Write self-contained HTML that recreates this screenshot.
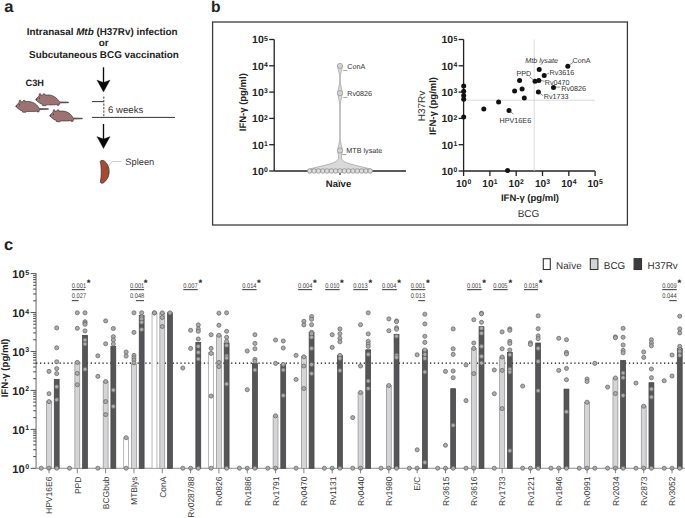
<!DOCTYPE html>
<html><head><meta charset="utf-8"><style>
html,body{margin:0;padding:0;background:#fff;width:685px;height:518px;overflow:hidden}
svg{display:block;font-family:"Liberation Sans", sans-serif;text-rendering:geometricPrecision}
</style></head><body>
<svg width="685" height="518" viewBox="0 0 685 518" fill="#222">
<text x="4.2" y="12.4" font-size="16.5" font-weight="bold">a</text>
<text x="210.9" y="12" font-size="15.6" font-weight="bold">b</text>
<text x="4" y="250.1" font-size="16.5" font-weight="bold">c</text>
<g font-weight="bold" font-size="9.9" text-anchor="middle">
<text x="102.2" y="34.9">Intranasal <tspan font-style="italic">Mtb</tspan> (H37Rv) infection</text>
<text x="103.6" y="46">or</text>
<text x="104" y="57.6">Subcutaneous BCG vaccination</text>
</g>
<text x="25.6" y="85.7" font-size="9.2" font-weight="bold">C3H</text>
<line x1="103.5" y1="67.3" x2="103.5" y2="88.0" stroke="#0a0a0a" stroke-width="1.35"/><path d="M103.5,92.0 L96.9,80.1 L103.5,82.5 L110.1,80.1 Z" fill="#0a0a0a" stroke="#0a0a0a" stroke-width="0.3" stroke-linejoin="miter"/>
<line x1="103.5" y1="124.0" x2="103.5" y2="144.5" stroke="#0a0a0a" stroke-width="1.35"/><path d="M103.5,148.5 L96.9,136.6 L103.5,139.0 L110.1,136.6 Z" fill="#0a0a0a" stroke="#0a0a0a" stroke-width="0.3" stroke-linejoin="miter"/>
<line x1="92.1" y1="101.6" x2="104" y2="101.6" stroke="#333" stroke-width="1"/>
<line x1="103.8" y1="96.6" x2="103.8" y2="117" stroke="#555" stroke-width="1.1" stroke-dasharray="2.1,1.4"/>
<line x1="92.1" y1="117.4" x2="175" y2="117.4" stroke="#333" stroke-width="1"/>
<text x="108.1" y="112.7" font-size="9.6" fill="#333">6 weeks</text>
<path d="M100.3,161.3 C100.8,160.2 102.8,159.9 104.6,161.2 C107.6,163.4 109.3,167.5 109.2,172 C109.1,176.5 106.8,180.6 103.6,182.7 C102.3,183.5 100.9,183.4 100.5,182.4 C100.2,181.5 100.9,179 101.1,176.5 C101.3,173 101.2,168 100.9,165 C100.7,163.3 100.0,162.2 100.3,161.3 Z" fill="#a54b34" stroke="#2f2522" stroke-width="0.65"/>
<polyline points="108.2,166.3 112.2,161.5 121.5,161.5" fill="none" stroke="#c8c8c8" stroke-width="0.9"/>
<line x1="105.4" y1="169.5" x2="108.2" y2="166.3" stroke="#4a3a35" stroke-width="0.6"/>
<text x="125.3" y="164.6" font-size="9.3" fill="#333">Spleen</text>
<g transform="translate(35.8,99.6)"><path d="M0,0 C0.6,-1.0 1.2,-1.9 2.4,-2.8 L3.3,-3.6 C3.2,-4.8 3.5,-6.1 4.2,-6.2 C4.9,-6.1 5.3,-5.2 5.1,-4.1 L6.8,-4.4 C7.0,-5.4 7.7,-6.0 8.5,-5.9 C9.3,-5.6 9.5,-4.9 9.2,-4.4 C12,-5.1 16,-4.7 19,-2.7 C21,-1.3 22.6,0.5 23.4,2.3 L32.6,2.5 L32.6,3.1 L23.8,3.4 C23.6,4.2 23.4,4.8 23.2,5.6 L21.6,5.8 L21.9,5.0 C18,5.4 14,5.4 10.5,5.2 L10.3,6.0 L8.2,6.1 L6.6,5.9 L7.0,5.0 C5.0,4.4 3.0,3.0 1.8,2.0 C1.0,1.3 0.4,0.7 0,0 Z" fill="#9c7272" stroke="#2e2424" stroke-width="0.6" stroke-linejoin="round"/><circle cx="3.6" cy="-1.5" r="0.55" fill="#2e2424"/><circle cx="0.5" cy="0.1" r="0.6" fill="#2e2424"/></g>
<g transform="translate(15.8,106.2)"><path d="M0,0 C0.6,-1.0 1.2,-1.9 2.4,-2.8 L3.3,-3.6 C3.2,-4.8 3.5,-6.1 4.2,-6.2 C4.9,-6.1 5.3,-5.2 5.1,-4.1 L6.8,-4.4 C7.0,-5.4 7.7,-6.0 8.5,-5.9 C9.3,-5.6 9.5,-4.9 9.2,-4.4 C12,-5.1 16,-4.7 19,-2.7 C21,-1.3 22.6,0.5 23.4,2.3 L32.6,2.5 L32.6,3.1 L23.8,3.4 C23.6,4.2 23.4,4.8 23.2,5.6 L21.6,5.8 L21.9,5.0 C18,5.4 14,5.4 10.5,5.2 L10.3,6.0 L8.2,6.1 L6.6,5.9 L7.0,5.0 C5.0,4.4 3.0,3.0 1.8,2.0 C1.0,1.3 0.4,0.7 0,0 Z" fill="#9c7272" stroke="#2e2424" stroke-width="0.6" stroke-linejoin="round"/><circle cx="3.6" cy="-1.5" r="0.55" fill="#2e2424"/><circle cx="0.5" cy="0.1" r="0.6" fill="#2e2424"/></g>
<g transform="translate(49.8,115.7)"><path d="M0,0 C0.6,-1.0 1.2,-1.9 2.4,-2.8 L3.3,-3.6 C3.2,-4.8 3.5,-6.1 4.2,-6.2 C4.9,-6.1 5.3,-5.2 5.1,-4.1 L6.8,-4.4 C7.0,-5.4 7.7,-6.0 8.5,-5.9 C9.3,-5.6 9.5,-4.9 9.2,-4.4 C12,-5.1 16,-4.7 19,-2.7 C21,-1.3 22.6,0.5 23.4,2.3 L32.6,2.5 L32.6,3.1 L23.8,3.4 C23.6,4.2 23.4,4.8 23.2,5.6 L21.6,5.8 L21.9,5.0 C18,5.4 14,5.4 10.5,5.2 L10.3,6.0 L8.2,6.1 L6.6,5.9 L7.0,5.0 C5.0,4.4 3.0,3.0 1.8,2.0 C1.0,1.3 0.4,0.7 0,0 Z" fill="#9c7272" stroke="#2e2424" stroke-width="0.6" stroke-linejoin="round"/><circle cx="3.6" cy="-1.5" r="0.55" fill="#2e2424"/><circle cx="0.5" cy="0.1" r="0.6" fill="#2e2424"/></g>
<rect x="212.6" y="22" width="414.8" height="203" fill="none" stroke="#3c3c3c" stroke-width="1.3"/>
<line x1="274.2" y1="39.5" x2="274.2" y2="171.0" stroke="#222" stroke-width="1.3"/><line x1="269.2" y1="171.0" x2="274.2" y2="171.0" stroke="#222" stroke-width="1.3"/><text x="252.1" y="174.9" font-size="10.5" font-weight="bold" fill="#222">10<tspan dx="0.2" dy="-2.7" font-size="6.8">0</tspan></text><line x1="269.2" y1="144.7" x2="274.2" y2="144.7" stroke="#222" stroke-width="1.3"/><text x="252.1" y="148.6" font-size="10.5" font-weight="bold" fill="#222">10<tspan dx="0.2" dy="-2.7" font-size="6.8">1</tspan></text><line x1="269.2" y1="118.4" x2="274.2" y2="118.4" stroke="#222" stroke-width="1.3"/><text x="252.1" y="122.30000000000001" font-size="10.5" font-weight="bold" fill="#222">10<tspan dx="0.2" dy="-2.7" font-size="6.8">2</tspan></text><line x1="269.2" y1="92.1" x2="274.2" y2="92.1" stroke="#222" stroke-width="1.3"/><text x="252.1" y="96.0" font-size="10.5" font-weight="bold" fill="#222">10<tspan dx="0.2" dy="-2.7" font-size="6.8">3</tspan></text><line x1="269.2" y1="65.8" x2="274.2" y2="65.8" stroke="#222" stroke-width="1.3"/><text x="252.1" y="69.7" font-size="10.5" font-weight="bold" fill="#222">10<tspan dx="0.2" dy="-2.7" font-size="6.8">4</tspan></text><line x1="269.2" y1="39.5" x2="274.2" y2="39.5" stroke="#222" stroke-width="1.3"/><text x="252.1" y="43.4" font-size="10.5" font-weight="bold" fill="#222">10<tspan dx="0.2" dy="-2.7" font-size="6.8">5</tspan></text>
<line x1="274.2" y1="171.0" x2="406" y2="171.0" stroke="#222" stroke-width="1.4"/>
<line x1="340" y1="171.0" x2="340" y2="175.0" stroke="#222" stroke-width="1.2"/>
<text x="338.5" y="186.5" font-size="9.5" font-weight="bold" text-anchor="middle" fill="#222">Naïve</text>
<text transform="translate(246.2,102.2) rotate(-90)" font-size="9.5" font-weight="bold" text-anchor="middle" fill="#222">IFN-γ (pg/ml)</text>
<path d="M342.20,65.90 L342.19,66.40 L342.16,66.90 L342.12,67.40 L342.06,67.90 L341.98,68.40 L341.90,68.90 L341.80,69.40 L341.69,69.90 L341.57,70.40 L341.46,70.90 L341.34,71.40 L341.21,71.90 L341.10,72.40 L340.98,72.90 L340.87,73.40 L340.77,73.90 L340.67,74.40 L340.59,74.90 L340.51,75.40 L340.44,75.90 L340.38,76.40 L340.33,76.90 L340.28,77.40 L340.25,77.90 L340.23,78.40 L340.21,78.90 L340.21,79.40 L340.21,79.90 L340.22,80.40 L340.24,80.90 L340.27,81.40 L340.31,81.90 L340.36,82.40 L340.41,82.90 L340.48,83.40 L340.55,83.90 L340.64,84.40 L340.73,84.90 L340.83,85.40 L340.94,85.90 L341.05,86.40 L341.17,86.90 L341.29,87.40 L341.41,87.90 L341.53,88.40 L341.64,88.90 L341.75,89.40 L341.86,89.90 L341.95,90.40 L342.03,90.90 L342.10,91.40 L342.15,91.90 L342.18,92.40 L342.20,92.90 L342.20,93.40 L342.18,93.90 L342.14,94.40 L342.09,94.90 L342.02,95.40 L341.93,95.90 L341.84,96.40 L341.73,96.90 L341.62,97.40 L341.50,97.90 L341.38,98.40 L341.26,98.90 L341.14,99.40 L341.02,99.90 L340.91,100.40 L340.80,100.90 L340.70,101.40 L340.61,101.90 L340.53,102.40 L340.45,102.90 L340.38,103.40 L340.32,103.90 L340.27,104.40 L340.22,104.90 L340.18,105.40 L340.15,105.90 L340.12,106.40 L340.12,106.90 L340.12,107.40 L340.12,107.90 L340.12,108.40 L340.12,108.90 L340.12,109.40 L340.12,109.90 L340.12,110.40 L340.12,110.90 L340.12,111.40 L340.12,111.90 L340.12,112.40 L340.12,112.90 L340.12,113.40 L340.12,113.90 L340.12,114.40 L340.12,114.90 L340.12,115.40 L340.12,115.90 L340.12,116.40 L340.12,116.90 L340.12,117.40 L340.12,117.90 L340.12,118.40 L340.12,118.90 L340.12,119.40 L340.12,119.90 L340.12,120.40 L340.12,120.90 L340.12,121.40 L340.12,121.90 L340.12,122.40 L340.12,122.90 L340.12,123.40 L340.12,123.90 L340.12,124.40 L340.12,124.90 L340.12,125.40 L340.12,125.90 L340.12,126.40 L340.12,126.90 L340.12,127.40 L340.12,127.90 L340.12,128.40 L340.12,128.90 L340.12,129.40 L340.12,129.90 L340.12,130.40 L340.12,130.90 L340.12,131.40 L340.12,131.90 L340.12,132.40 L340.12,132.90 L340.12,133.40 L340.12,133.90 L340.12,134.40 L340.12,134.90 L340.12,135.40 L340.12,135.90 L340.12,136.40 L340.12,136.90 L340.13,137.40 L340.16,137.90 L340.20,138.40 L340.24,138.90 L340.29,139.40 L340.34,139.90 L340.41,140.40 L340.48,140.90 L340.56,141.40 L340.65,141.90 L340.74,142.40 L340.85,142.90 L340.96,143.40 L341.07,143.90 L341.19,144.40 L341.31,144.90 L341.43,145.40 L341.55,145.90 L341.67,146.40 L341.78,146.90 L341.88,147.40 L341.97,147.90 L342.05,148.40 L342.11,148.90 L342.16,149.40 L342.19,149.90 L342.20,150.40 L342.20,150.90 L342.17,151.40 L342.14,151.90 L342.08,152.40 L342.01,152.90 L341.94,153.40 L341.85,153.90 L341.76,154.40 L341.67,154.90 L341.58,155.40 L341.51,155.90 L341.45,156.40 L341.42,156.90 L341.42,157.40 L341.46,157.90 L341.56,158.40 L341.72,158.90 L341.97,159.40 L342.31,159.90 L342.76,160.40 L343.33,160.90 L344.05,161.40 L344.92,161.90 L345.96,162.40 L347.18,162.90 L348.57,163.40 L350.14,163.90 L351.88,164.40 L353.77,164.90 L355.78,165.40 L357.89,165.90 L360.05,166.40 L362.21,166.90 L364.31,167.40 L366.31,167.90 L368.14,168.40 L369.74,168.90 L371.07,169.40 L372.07,169.90 L372.72,170.40 L372.99,170.90 L373.00,171.00 L307.00,171.00 L307.01,170.90 L307.28,170.40 L307.93,169.90 L308.93,169.40 L310.26,168.90 L311.86,168.40 L313.69,167.90 L315.69,167.40 L317.79,166.90 L319.95,166.40 L322.11,165.90 L324.22,165.40 L326.23,164.90 L328.12,164.40 L329.86,163.90 L331.43,163.40 L332.82,162.90 L334.04,162.40 L335.08,161.90 L335.95,161.40 L336.67,160.90 L337.24,160.40 L337.69,159.90 L338.03,159.40 L338.28,158.90 L338.44,158.40 L338.54,157.90 L338.58,157.40 L338.58,156.90 L338.55,156.40 L338.49,155.90 L338.42,155.40 L338.33,154.90 L338.24,154.40 L338.15,153.90 L338.06,153.40 L337.99,152.90 L337.92,152.40 L337.86,151.90 L337.83,151.40 L337.80,150.90 L337.80,150.40 L337.81,149.90 L337.84,149.40 L337.89,148.90 L337.95,148.40 L338.03,147.90 L338.12,147.40 L338.22,146.90 L338.33,146.40 L338.45,145.90 L338.57,145.40 L338.69,144.90 L338.81,144.40 L338.93,143.90 L339.04,143.40 L339.15,142.90 L339.26,142.40 L339.35,141.90 L339.44,141.40 L339.52,140.90 L339.59,140.40 L339.66,139.90 L339.71,139.40 L339.76,138.90 L339.80,138.40 L339.84,137.90 L339.87,137.40 L339.88,136.90 L339.88,136.40 L339.88,135.90 L339.88,135.40 L339.88,134.90 L339.88,134.40 L339.88,133.90 L339.88,133.40 L339.88,132.90 L339.88,132.40 L339.88,131.90 L339.88,131.40 L339.88,130.90 L339.88,130.40 L339.88,129.90 L339.88,129.40 L339.88,128.90 L339.88,128.40 L339.88,127.90 L339.88,127.40 L339.88,126.90 L339.88,126.40 L339.88,125.90 L339.88,125.40 L339.88,124.90 L339.88,124.40 L339.88,123.90 L339.88,123.40 L339.88,122.90 L339.88,122.40 L339.88,121.90 L339.88,121.40 L339.88,120.90 L339.88,120.40 L339.88,119.90 L339.88,119.40 L339.88,118.90 L339.88,118.40 L339.88,117.90 L339.88,117.40 L339.88,116.90 L339.88,116.40 L339.88,115.90 L339.88,115.40 L339.88,114.90 L339.88,114.40 L339.88,113.90 L339.88,113.40 L339.88,112.90 L339.88,112.40 L339.88,111.90 L339.88,111.40 L339.88,110.90 L339.88,110.40 L339.88,109.90 L339.88,109.40 L339.88,108.90 L339.88,108.40 L339.88,107.90 L339.88,107.40 L339.88,106.90 L339.88,106.40 L339.85,105.90 L339.82,105.40 L339.78,104.90 L339.73,104.40 L339.68,103.90 L339.62,103.40 L339.55,102.90 L339.47,102.40 L339.39,101.90 L339.30,101.40 L339.20,100.90 L339.09,100.40 L338.98,99.90 L338.86,99.40 L338.74,98.90 L338.62,98.40 L338.50,97.90 L338.38,97.40 L338.27,96.90 L338.16,96.40 L338.07,95.90 L337.98,95.40 L337.91,94.90 L337.86,94.40 L337.82,93.90 L337.80,93.40 L337.80,92.90 L337.82,92.40 L337.85,91.90 L337.90,91.40 L337.97,90.90 L338.05,90.40 L338.14,89.90 L338.25,89.40 L338.36,88.90 L338.47,88.40 L338.59,87.90 L338.71,87.40 L338.83,86.90 L338.95,86.40 L339.06,85.90 L339.17,85.40 L339.27,84.90 L339.36,84.40 L339.45,83.90 L339.52,83.40 L339.59,82.90 L339.64,82.40 L339.69,81.90 L339.73,81.40 L339.76,80.90 L339.78,80.40 L339.79,79.90 L339.79,79.40 L339.79,78.90 L339.77,78.40 L339.75,77.90 L339.72,77.40 L339.67,76.90 L339.62,76.40 L339.56,75.90 L339.49,75.40 L339.41,74.90 L339.33,74.40 L339.23,73.90 L339.13,73.40 L339.02,72.90 L338.90,72.40 L338.79,71.90 L338.66,71.40 L338.54,70.90 L338.43,70.40 L338.31,69.90 L338.20,69.40 L338.10,68.90 L338.02,68.40 L337.94,67.90 L337.88,67.40 L337.84,66.90 L337.81,66.40 L337.80,65.90 Z" fill="#d9d9d9" stroke="#8a8a8a" stroke-width="0.6" stroke-linejoin="round"/>
<circle cx="309.80" cy="171.0" r="2.3" fill="#dcdcdc" stroke="#777" stroke-width="0.6"/>
<circle cx="314.11" cy="171.0" r="2.3" fill="#dcdcdc" stroke="#777" stroke-width="0.6"/>
<circle cx="318.43" cy="171.0" r="2.3" fill="#dcdcdc" stroke="#777" stroke-width="0.6"/>
<circle cx="322.74" cy="171.0" r="2.3" fill="#dcdcdc" stroke="#777" stroke-width="0.6"/>
<circle cx="327.06" cy="171.0" r="2.3" fill="#dcdcdc" stroke="#777" stroke-width="0.6"/>
<circle cx="331.37" cy="171.0" r="2.3" fill="#dcdcdc" stroke="#777" stroke-width="0.6"/>
<circle cx="335.69" cy="171.0" r="2.3" fill="#dcdcdc" stroke="#777" stroke-width="0.6"/>
<circle cx="340.00" cy="171.0" r="2.3" fill="#dcdcdc" stroke="#777" stroke-width="0.6"/>
<circle cx="344.31" cy="171.0" r="2.3" fill="#dcdcdc" stroke="#777" stroke-width="0.6"/>
<circle cx="348.63" cy="171.0" r="2.3" fill="#dcdcdc" stroke="#777" stroke-width="0.6"/>
<circle cx="352.94" cy="171.0" r="2.3" fill="#dcdcdc" stroke="#777" stroke-width="0.6"/>
<circle cx="357.26" cy="171.0" r="2.3" fill="#dcdcdc" stroke="#777" stroke-width="0.6"/>
<circle cx="361.57" cy="171.0" r="2.3" fill="#dcdcdc" stroke="#777" stroke-width="0.6"/>
<circle cx="365.89" cy="171.0" r="2.3" fill="#dcdcdc" stroke="#777" stroke-width="0.6"/>
<circle cx="370.20" cy="171.0" r="2.3" fill="#dcdcdc" stroke="#777" stroke-width="0.6"/>
<circle cx="340" cy="65.9" r="2.6" fill="#d4d4d4" stroke="#888" stroke-width="0.6"/>
<circle cx="340" cy="93.1" r="2.6" fill="#d4d4d4" stroke="#888" stroke-width="0.6"/>
<circle cx="340" cy="150.5" r="2.6" fill="#d4d4d4" stroke="#888" stroke-width="0.6"/>
<g font-size="7.2" fill="#333">
<text x="343.3" y="69">_ConA</text><text x="343.3" y="95.6">_Rv0826</text><text x="342.3" y="152.7">_MTB lysate</text>
</g>
<line x1="463.6" y1="39.5" x2="463.6" y2="171.0" stroke="#222" stroke-width="1.3"/><line x1="458.6" y1="171.0" x2="463.6" y2="171.0" stroke="#222" stroke-width="1.3"/><text x="441.5" y="174.9" font-size="10.5" font-weight="bold" fill="#222">10<tspan dx="0.2" dy="-2.7" font-size="6.8">0</tspan></text><line x1="458.6" y1="144.7" x2="463.6" y2="144.7" stroke="#222" stroke-width="1.3"/><text x="441.5" y="148.6" font-size="10.5" font-weight="bold" fill="#222">10<tspan dx="0.2" dy="-2.7" font-size="6.8">1</tspan></text><line x1="458.6" y1="118.4" x2="463.6" y2="118.4" stroke="#222" stroke-width="1.3"/><text x="441.5" y="122.30000000000001" font-size="10.5" font-weight="bold" fill="#222">10<tspan dx="0.2" dy="-2.7" font-size="6.8">2</tspan></text><line x1="458.6" y1="92.1" x2="463.6" y2="92.1" stroke="#222" stroke-width="1.3"/><text x="441.5" y="96.0" font-size="10.5" font-weight="bold" fill="#222">10<tspan dx="0.2" dy="-2.7" font-size="6.8">3</tspan></text><line x1="458.6" y1="65.8" x2="463.6" y2="65.8" stroke="#222" stroke-width="1.3"/><text x="441.5" y="69.7" font-size="10.5" font-weight="bold" fill="#222">10<tspan dx="0.2" dy="-2.7" font-size="6.8">4</tspan></text><line x1="458.6" y1="39.5" x2="463.6" y2="39.5" stroke="#222" stroke-width="1.3"/><text x="441.5" y="43.4" font-size="10.5" font-weight="bold" fill="#222">10<tspan dx="0.2" dy="-2.7" font-size="6.8">5</tspan></text>
<line x1="463.6" y1="171.0" x2="594.9" y2="171.0" stroke="#222" stroke-width="1.4"/>
<line x1="463.6" y1="171.0" x2="463.6" y2="176.0" stroke="#222" stroke-width="1.3"/>
<text x="456.00" y="187.3" font-size="10.1" font-weight="bold" fill="#222">10<tspan dx="0.2" dy="-3.1" font-size="6.8">0</tspan></text>
<line x1="489.90000000000003" y1="171.0" x2="489.90000000000003" y2="176.0" stroke="#222" stroke-width="1.3"/>
<text x="482.30" y="187.3" font-size="10.1" font-weight="bold" fill="#222">10<tspan dx="0.2" dy="-3.1" font-size="6.8">1</tspan></text>
<line x1="516.2" y1="171.0" x2="516.2" y2="176.0" stroke="#222" stroke-width="1.3"/>
<text x="508.60" y="187.3" font-size="10.1" font-weight="bold" fill="#222">10<tspan dx="0.2" dy="-3.1" font-size="6.8">2</tspan></text>
<line x1="542.5" y1="171.0" x2="542.5" y2="176.0" stroke="#222" stroke-width="1.3"/>
<text x="534.90" y="187.3" font-size="10.1" font-weight="bold" fill="#222">10<tspan dx="0.2" dy="-3.1" font-size="6.8">3</tspan></text>
<line x1="568.8000000000001" y1="171.0" x2="568.8000000000001" y2="176.0" stroke="#222" stroke-width="1.3"/>
<text x="561.20" y="187.3" font-size="10.1" font-weight="bold" fill="#222">10<tspan dx="0.2" dy="-3.1" font-size="6.8">4</tspan></text>
<line x1="595.1" y1="171.0" x2="595.1" y2="176.0" stroke="#222" stroke-width="1.3"/>
<text x="587.50" y="187.3" font-size="10.1" font-weight="bold" fill="#222">10<tspan dx="0.2" dy="-3.1" font-size="6.8">5</tspan></text>
<text x="530" y="201.3" font-size="9.5" font-weight="bold" text-anchor="middle" fill="#222">IFN-γ (pg/ml)</text>
<text x="528.5" y="216.9" font-size="10" text-anchor="middle" fill="#333">BCG</text>
<text transform="translate(425.2,106) rotate(-90)" font-size="10" text-anchor="middle" fill="#333">H37Rv</text>
<text transform="translate(435.5,106) rotate(-90)" font-size="9.5" font-weight="bold" text-anchor="middle" fill="#222">IFN-γ (pg/ml)</text>
<line x1="463.6" y1="100.2" x2="594.9" y2="100.2" stroke="#cfcfcf" stroke-width="0.8"/>
<line x1="534.2" y1="39.5" x2="534.2" y2="171.0" stroke="#cfcfcf" stroke-width="0.8"/>
<circle cx="463.7" cy="85.9" r="2.5" fill="#111"/>
<circle cx="463.7" cy="91.2" r="2.5" fill="#111"/>
<circle cx="463.7" cy="95.4" r="2.5" fill="#111"/>
<circle cx="463.7" cy="99.3" r="2.5" fill="#111"/>
<circle cx="463.7" cy="116.9" r="2.5" fill="#111"/>
<circle cx="483.8" cy="109.1" r="2.5" fill="#111"/>
<circle cx="498.6" cy="102.1" r="2.5" fill="#111"/>
<circle cx="509" cy="110.6" r="2.5" fill="#111"/>
<circle cx="514.6" cy="91.1" r="2.5" fill="#111"/>
<circle cx="519.6" cy="80.6" r="2.5" fill="#111"/>
<circle cx="522.1" cy="89.1" r="2.5" fill="#111"/>
<circle cx="524.3" cy="97.9" r="2.5" fill="#111"/>
<circle cx="535" cy="81.2" r="2.5" fill="#111"/>
<circle cx="538.8" cy="80.5" r="2.5" fill="#111"/>
<circle cx="539.2" cy="69.6" r="2.5" fill="#111"/>
<circle cx="544.2" cy="75.4" r="2.5" fill="#111"/>
<circle cx="538.4" cy="92.1" r="2.5" fill="#111"/>
<circle cx="553.5" cy="87.4" r="2.5" fill="#111"/>
<circle cx="567.8" cy="66.2" r="2.5" fill="#111"/>
<circle cx="507.6" cy="170.6" r="2.5" fill="#111"/>
<g font-size="7.2" fill="#333">
<text x="525.2" y="63.2" font-style="italic">Mtb lysate</text>
<text x="572.6" y="62.8">ConA</text>
<text x="516.5" y="76.2">PPD</text>
<text x="549.5" y="75">Rv3616</text>
<text x="544.8" y="84.5">Rv0470</text>
<text x="561.2" y="91.1">Rv0826</text>
<text x="543.7" y="98.8">Rv1733</text>
<text x="499.6" y="122.9">HPV16E6</text>
</g>
<g stroke="#444" stroke-width="0.6" fill="none">
<line x1="568.8" y1="65.4" x2="573" y2="62.4"/>
<line x1="546.3" y1="74.4" x2="549" y2="73.2"/>
<line x1="540.6" y1="80.4" x2="544.7" y2="81.3"/>
<line x1="555.2" y1="87.1" x2="560.2" y2="87.1"/>
<line x1="539.5" y1="93.2" x2="543.2" y2="95.6"/>
<line x1="529.3" y1="76.6" x2="533.6" y2="80.1"/>
<line x1="509.7" y1="111" x2="513.5" y2="114.1"/>
</g>
<line x1="36.1" y1="273.1" x2="36.1" y2="468.3" stroke="#ababab" stroke-width="1.8"/><line x1="36.1" y1="468.3" x2="685" y2="468.3" stroke="#8c8c8c" stroke-width="1.1"/><line x1="30.6" y1="468.3" x2="36.1" y2="468.3" stroke="#555" stroke-width="1"/><text x="12.200000000000003" y="472.6" font-size="11.2" font-weight="bold" fill="#222">10<tspan dx="0.7" dy="-3.3" font-size="7">0</tspan></text><line x1="33.1" y1="456.58" x2="36.1" y2="456.58" stroke="#444" stroke-width="0.95"/><line x1="33.1" y1="449.72" x2="36.1" y2="449.72" stroke="#444" stroke-width="0.95"/><line x1="33.1" y1="444.86" x2="36.1" y2="444.86" stroke="#444" stroke-width="0.95"/><line x1="33.1" y1="441.08" x2="36.1" y2="441.08" stroke="#444" stroke-width="0.95"/><line x1="33.1" y1="438.00" x2="36.1" y2="438.00" stroke="#444" stroke-width="0.95"/><line x1="33.1" y1="435.39" x2="36.1" y2="435.39" stroke="#444" stroke-width="0.95"/><line x1="33.1" y1="433.13" x2="36.1" y2="433.13" stroke="#444" stroke-width="0.95"/><line x1="33.1" y1="431.14" x2="36.1" y2="431.14" stroke="#444" stroke-width="0.95"/><line x1="30.6" y1="429.36" x2="36.1" y2="429.36" stroke="#555" stroke-width="1"/><text x="12.200000000000003" y="433.66" font-size="11.2" font-weight="bold" fill="#222">10<tspan dx="0.7" dy="-3.3" font-size="7">1</tspan></text><line x1="33.1" y1="417.64" x2="36.1" y2="417.64" stroke="#444" stroke-width="0.95"/><line x1="33.1" y1="410.78" x2="36.1" y2="410.78" stroke="#444" stroke-width="0.95"/><line x1="33.1" y1="405.92" x2="36.1" y2="405.92" stroke="#444" stroke-width="0.95"/><line x1="33.1" y1="402.14" x2="36.1" y2="402.14" stroke="#444" stroke-width="0.95"/><line x1="33.1" y1="399.06" x2="36.1" y2="399.06" stroke="#444" stroke-width="0.95"/><line x1="33.1" y1="396.45" x2="36.1" y2="396.45" stroke="#444" stroke-width="0.95"/><line x1="33.1" y1="394.19" x2="36.1" y2="394.19" stroke="#444" stroke-width="0.95"/><line x1="33.1" y1="392.20" x2="36.1" y2="392.20" stroke="#444" stroke-width="0.95"/><line x1="30.6" y1="390.42" x2="36.1" y2="390.42" stroke="#555" stroke-width="1"/><text x="12.200000000000003" y="394.72" font-size="11.2" font-weight="bold" fill="#222">10<tspan dx="0.7" dy="-3.3" font-size="7">2</tspan></text><line x1="33.1" y1="378.70" x2="36.1" y2="378.70" stroke="#444" stroke-width="0.95"/><line x1="33.1" y1="371.84" x2="36.1" y2="371.84" stroke="#444" stroke-width="0.95"/><line x1="33.1" y1="366.98" x2="36.1" y2="366.98" stroke="#444" stroke-width="0.95"/><line x1="33.1" y1="363.20" x2="36.1" y2="363.20" stroke="#444" stroke-width="0.95"/><line x1="33.1" y1="360.12" x2="36.1" y2="360.12" stroke="#444" stroke-width="0.95"/><line x1="33.1" y1="357.51" x2="36.1" y2="357.51" stroke="#444" stroke-width="0.95"/><line x1="33.1" y1="355.25" x2="36.1" y2="355.25" stroke="#444" stroke-width="0.95"/><line x1="33.1" y1="353.26" x2="36.1" y2="353.26" stroke="#444" stroke-width="0.95"/><line x1="30.6" y1="351.48" x2="36.1" y2="351.48" stroke="#555" stroke-width="1"/><text x="12.200000000000003" y="355.78000000000003" font-size="11.2" font-weight="bold" fill="#222">10<tspan dx="0.7" dy="-3.3" font-size="7">3</tspan></text><line x1="33.1" y1="339.76" x2="36.1" y2="339.76" stroke="#444" stroke-width="0.95"/><line x1="33.1" y1="332.90" x2="36.1" y2="332.90" stroke="#444" stroke-width="0.95"/><line x1="33.1" y1="328.04" x2="36.1" y2="328.04" stroke="#444" stroke-width="0.95"/><line x1="33.1" y1="324.26" x2="36.1" y2="324.26" stroke="#444" stroke-width="0.95"/><line x1="33.1" y1="321.18" x2="36.1" y2="321.18" stroke="#444" stroke-width="0.95"/><line x1="33.1" y1="318.57" x2="36.1" y2="318.57" stroke="#444" stroke-width="0.95"/><line x1="33.1" y1="316.31" x2="36.1" y2="316.31" stroke="#444" stroke-width="0.95"/><line x1="33.1" y1="314.32" x2="36.1" y2="314.32" stroke="#444" stroke-width="0.95"/><line x1="30.6" y1="312.54" x2="36.1" y2="312.54" stroke="#555" stroke-width="1"/><text x="12.200000000000003" y="316.84000000000003" font-size="11.2" font-weight="bold" fill="#222">10<tspan dx="0.7" dy="-3.3" font-size="7">4</tspan></text><line x1="33.1" y1="300.82" x2="36.1" y2="300.82" stroke="#444" stroke-width="0.95"/><line x1="33.1" y1="293.96" x2="36.1" y2="293.96" stroke="#444" stroke-width="0.95"/><line x1="33.1" y1="289.10" x2="36.1" y2="289.10" stroke="#444" stroke-width="0.95"/><line x1="33.1" y1="285.32" x2="36.1" y2="285.32" stroke="#444" stroke-width="0.95"/><line x1="33.1" y1="282.24" x2="36.1" y2="282.24" stroke="#444" stroke-width="0.95"/><line x1="33.1" y1="279.63" x2="36.1" y2="279.63" stroke="#444" stroke-width="0.95"/><line x1="33.1" y1="277.37" x2="36.1" y2="277.37" stroke="#444" stroke-width="0.95"/><line x1="33.1" y1="275.38" x2="36.1" y2="275.38" stroke="#444" stroke-width="0.95"/><line x1="30.6" y1="273.6" x2="36.1" y2="273.6" stroke="#555" stroke-width="1"/><text x="12.200000000000003" y="277.90000000000003" font-size="11.2" font-weight="bold" fill="#222">10<tspan dx="0.7" dy="-3.3" font-size="7">5</tspan></text>
<text transform="translate(7.6,368) rotate(-90)" font-size="9.6" font-weight="bold" text-anchor="middle" fill="#222">IFN-γ (pg/ml)</text>
<line x1="36.1" y1="363.2" x2="685" y2="363.2" stroke="#111" stroke-width="1.3" stroke-dasharray="1.3,2.6"/>
<rect x="46.55" y="401.6" width="4.9" height="66.70" fill="#d5d5d7" stroke="#8f8f8f" stroke-width="0.7"/><rect x="54.25" y="379.3" width="4.9" height="89.00" fill="#555557" stroke="#3f3f41" stroke-width="0.7"/><rect x="74.87" y="362" width="4.9" height="106.30" fill="#d5d5d7" stroke="#8f8f8f" stroke-width="0.7"/><rect x="82.57" y="335.3" width="4.9" height="133.00" fill="#555557" stroke="#3f3f41" stroke-width="0.7"/><rect x="103.19" y="381.5" width="4.9" height="86.80" fill="#d5d5d7" stroke="#8f8f8f" stroke-width="0.7"/><rect x="110.89" y="346.4" width="4.9" height="121.90" fill="#555557" stroke="#3f3f41" stroke-width="0.7"/><rect x="123.71" y="437.7" width="4.9" height="30.60" fill="#ffffff" stroke="#9a9a9a" stroke-width="0.7"/><rect x="131.51" y="364" width="4.9" height="104.30" fill="#d5d5d7" stroke="#8f8f8f" stroke-width="0.7"/><rect x="139.21" y="315.5" width="4.9" height="152.80" fill="#555557" stroke="#3f3f41" stroke-width="0.7"/><rect x="152.03" y="312.8" width="4.9" height="155.50" fill="#ffffff" stroke="#9a9a9a" stroke-width="0.7"/><rect x="159.83" y="312.8" width="4.9" height="155.50" fill="#d5d5d7" stroke="#8f8f8f" stroke-width="0.7"/><rect x="167.53" y="312.8" width="4.9" height="155.50" fill="#555557" stroke="#3f3f41" stroke-width="0.7"/><rect x="195.85" y="342.4" width="4.9" height="125.90" fill="#555557" stroke="#3f3f41" stroke-width="0.7"/><rect x="208.67" y="352.4" width="4.9" height="115.90" fill="#ffffff" stroke="#9a9a9a" stroke-width="0.7"/><rect x="216.47" y="335.3" width="4.9" height="133.00" fill="#d5d5d7" stroke="#8f8f8f" stroke-width="0.7"/><rect x="224.17" y="343" width="4.9" height="125.30" fill="#555557" stroke="#3f3f41" stroke-width="0.7"/><rect x="252.49" y="363.4" width="4.9" height="104.90" fill="#555557" stroke="#3f3f41" stroke-width="0.7"/><rect x="273.11" y="415.8" width="4.9" height="52.50" fill="#d5d5d7" stroke="#8f8f8f" stroke-width="0.7"/><rect x="280.81" y="364.5" width="4.9" height="103.80" fill="#555557" stroke="#3f3f41" stroke-width="0.7"/><rect x="301.43" y="356.4" width="4.9" height="111.90" fill="#d5d5d7" stroke="#8f8f8f" stroke-width="0.7"/><rect x="309.13" y="332.3" width="4.9" height="136.00" fill="#555557" stroke="#3f3f41" stroke-width="0.7"/><rect x="337.45" y="355.4" width="4.9" height="112.90" fill="#555557" stroke="#3f3f41" stroke-width="0.7"/><rect x="358.07" y="392.5" width="4.9" height="75.80" fill="#d5d5d7" stroke="#8f8f8f" stroke-width="0.7"/><rect x="365.77" y="349.8" width="4.9" height="118.50" fill="#555557" stroke="#3f3f41" stroke-width="0.7"/><rect x="386.39" y="385.5" width="4.9" height="82.80" fill="#d5d5d7" stroke="#8f8f8f" stroke-width="0.7"/><rect x="394.09" y="334.3" width="4.9" height="134.00" fill="#555557" stroke="#3f3f41" stroke-width="0.7"/><rect x="422.41" y="349.8" width="4.9" height="118.50" fill="#555557" stroke="#3f3f41" stroke-width="0.7"/><rect x="450.73" y="388.7" width="4.9" height="79.60" fill="#555557" stroke="#3f3f41" stroke-width="0.7"/><rect x="471.35" y="348.4" width="4.9" height="119.90" fill="#d5d5d7" stroke="#8f8f8f" stroke-width="0.7"/><rect x="479.05" y="326.7" width="4.9" height="141.60" fill="#555557" stroke="#3f3f41" stroke-width="0.7"/><rect x="499.67" y="357" width="4.9" height="111.30" fill="#d5d5d7" stroke="#8f8f8f" stroke-width="0.7"/><rect x="507.37" y="352.4" width="4.9" height="115.90" fill="#555557" stroke="#3f3f41" stroke-width="0.7"/><rect x="535.69" y="343" width="4.9" height="125.30" fill="#555557" stroke="#3f3f41" stroke-width="0.7"/><rect x="564.01" y="389.1" width="4.9" height="79.20" fill="#555557" stroke="#3f3f41" stroke-width="0.7"/><rect x="584.63" y="402.2" width="4.9" height="66.10" fill="#d5d5d7" stroke="#8f8f8f" stroke-width="0.7"/><rect x="612.95" y="378" width="4.9" height="90.30" fill="#d5d5d7" stroke="#8f8f8f" stroke-width="0.7"/><rect x="620.65" y="360.4" width="4.9" height="107.90" fill="#555557" stroke="#3f3f41" stroke-width="0.7"/><rect x="641.27" y="406.2" width="4.9" height="62.10" fill="#d5d5d7" stroke="#8f8f8f" stroke-width="0.7"/><rect x="648.97" y="382.7" width="4.9" height="85.60" fill="#555557" stroke="#3f3f41" stroke-width="0.7"/><rect x="677.29" y="348.4" width="4.9" height="119.90" fill="#555557" stroke="#3f3f41" stroke-width="0.7"/>
<g fill="#ababab" stroke="#666" stroke-width="0.75"><circle cx="41.20" cy="468.2" r="2.05"/><circle cx="49.00" cy="371.4" r="2.05"/><circle cx="49.00" cy="393.7" r="2.05"/><circle cx="49.00" cy="401.6" r="2.05"/><circle cx="49.00" cy="468.2" r="2.05"/><circle cx="56.70" cy="327.9" r="2.05"/><circle cx="56.70" cy="347.8" r="2.05"/><circle cx="56.70" cy="361.8" r="2.05"/><circle cx="56.70" cy="368.6" r="2.05"/><circle cx="56.70" cy="373.6" r="2.05"/><circle cx="56.70" cy="386.7" r="2.05"/><circle cx="56.70" cy="399.7" r="2.05"/><circle cx="56.70" cy="468.2" r="2.05"/><circle cx="69.52" cy="468.2" r="2.05"/><circle cx="77.32" cy="312.8" r="2.05"/><circle cx="77.32" cy="328.3" r="2.05"/><circle cx="77.32" cy="362.4" r="2.05"/><circle cx="77.32" cy="373.4" r="2.05"/><circle cx="77.32" cy="384.7" r="2.05"/><circle cx="85.02" cy="312.8" r="2.05"/><circle cx="85.02" cy="321.7" r="2.05"/><circle cx="85.02" cy="323" r="2.05"/><circle cx="85.02" cy="324.3" r="2.05"/><circle cx="85.02" cy="330.9" r="2.05"/><circle cx="85.02" cy="340" r="2.05"/><circle cx="85.02" cy="344" r="2.05"/><circle cx="85.02" cy="369.2" r="2.05"/><circle cx="97.84" cy="355.8" r="2.05"/><circle cx="97.84" cy="376.4" r="2.05"/><circle cx="97.84" cy="468.2" r="2.05"/><circle cx="105.64" cy="320.9" r="2.05"/><circle cx="105.64" cy="343.8" r="2.05"/><circle cx="105.64" cy="381.5" r="2.05"/><circle cx="105.64" cy="401.6" r="2.05"/><circle cx="105.64" cy="414.6" r="2.05"/><circle cx="113.34" cy="328.5" r="2.05"/><circle cx="113.34" cy="336.7" r="2.05"/><circle cx="113.34" cy="340" r="2.05"/><circle cx="113.34" cy="344" r="2.05"/><circle cx="113.34" cy="390.1" r="2.05"/><circle cx="113.34" cy="406.4" r="2.05"/><circle cx="126.16" cy="352" r="2.05"/><circle cx="126.16" cy="356.1" r="2.05"/><circle cx="126.16" cy="437.7" r="2.05"/><circle cx="126.16" cy="468.2" r="2.05"/><circle cx="133.96" cy="312.8" r="2.05"/><circle cx="133.96" cy="332.4" r="2.05"/><circle cx="133.96" cy="355.4" r="2.05"/><circle cx="133.96" cy="357.8" r="2.05"/><circle cx="133.96" cy="360.1" r="2.05"/><circle cx="133.96" cy="362.8" r="2.05"/><circle cx="141.66" cy="312.8" r="2.05"/><circle cx="141.66" cy="316.9" r="2.05"/><circle cx="141.66" cy="318.9" r="2.05"/><circle cx="141.66" cy="322.3" r="2.05"/><circle cx="141.66" cy="329.5" r="2.05"/><circle cx="154.48" cy="312.9" r="2.05"/><circle cx="154.48" cy="312.9" r="2.05"/><circle cx="162.28" cy="312.9" r="2.05"/><circle cx="162.28" cy="317.5" r="2.05"/><circle cx="162.28" cy="326.5" r="2.05"/><circle cx="169.98" cy="312.9" r="2.05"/><circle cx="182.80" cy="368" r="2.05"/><circle cx="182.80" cy="468.2" r="2.05"/><circle cx="190.60" cy="330.3" r="2.05"/><circle cx="190.60" cy="348.4" r="2.05"/><circle cx="190.60" cy="468.2" r="2.05"/><circle cx="198.30" cy="324.9" r="2.05"/><circle cx="198.30" cy="328.9" r="2.05"/><circle cx="198.30" cy="331.3" r="2.05"/><circle cx="198.30" cy="339" r="2.05"/><circle cx="198.30" cy="346.4" r="2.05"/><circle cx="198.30" cy="352.4" r="2.05"/><circle cx="198.30" cy="359" r="2.05"/><circle cx="198.30" cy="468.2" r="2.05"/><circle cx="211.12" cy="334.7" r="2.05"/><circle cx="211.12" cy="348.4" r="2.05"/><circle cx="211.12" cy="353.4" r="2.05"/><circle cx="211.12" cy="396.1" r="2.05"/><circle cx="211.12" cy="468.2" r="2.05"/><circle cx="218.92" cy="313.2" r="2.05"/><circle cx="218.92" cy="325.3" r="2.05"/><circle cx="218.92" cy="335.3" r="2.05"/><circle cx="218.92" cy="362.4" r="2.05"/><circle cx="218.92" cy="366.6" r="2.05"/><circle cx="226.62" cy="312.8" r="2.05"/><circle cx="226.62" cy="331.3" r="2.05"/><circle cx="226.62" cy="337.3" r="2.05"/><circle cx="226.62" cy="341.3" r="2.05"/><circle cx="226.62" cy="345.4" r="2.05"/><circle cx="226.62" cy="356" r="2.05"/><circle cx="226.62" cy="358" r="2.05"/><circle cx="226.62" cy="384" r="2.05"/><circle cx="226.62" cy="468.2" r="2.05"/><circle cx="239.44" cy="468.2" r="2.05"/><circle cx="247.24" cy="351" r="2.05"/><circle cx="247.24" cy="389.7" r="2.05"/><circle cx="247.24" cy="468.2" r="2.05"/><circle cx="254.94" cy="334.7" r="2.05"/><circle cx="254.94" cy="343.4" r="2.05"/><circle cx="254.94" cy="348.8" r="2.05"/><circle cx="254.94" cy="359.4" r="2.05"/><circle cx="254.94" cy="361.4" r="2.05"/><circle cx="254.94" cy="370" r="2.05"/><circle cx="254.94" cy="468.2" r="2.05"/><circle cx="267.76" cy="468.2" r="2.05"/><circle cx="275.56" cy="340" r="2.05"/><circle cx="275.56" cy="363.4" r="2.05"/><circle cx="275.56" cy="415.8" r="2.05"/><circle cx="275.56" cy="468.2" r="2.05"/><circle cx="283.26" cy="341" r="2.05"/><circle cx="283.26" cy="348" r="2.05"/><circle cx="283.26" cy="364.5" r="2.05"/><circle cx="283.26" cy="370" r="2.05"/><circle cx="283.26" cy="395.5" r="2.05"/><circle cx="296.08" cy="355.4" r="2.05"/><circle cx="296.08" cy="379.5" r="2.05"/><circle cx="296.08" cy="468.2" r="2.05"/><circle cx="303.88" cy="321.3" r="2.05"/><circle cx="303.88" cy="324.9" r="2.05"/><circle cx="303.88" cy="356.8" r="2.05"/><circle cx="303.88" cy="366" r="2.05"/><circle cx="303.88" cy="388.5" r="2.05"/><circle cx="311.58" cy="316.6" r="2.05"/><circle cx="311.58" cy="319.3" r="2.05"/><circle cx="311.58" cy="324.7" r="2.05"/><circle cx="311.58" cy="332.3" r="2.05"/><circle cx="311.58" cy="333.7" r="2.05"/><circle cx="311.58" cy="337.3" r="2.05"/><circle cx="311.58" cy="348.4" r="2.05"/><circle cx="311.58" cy="364.5" r="2.05"/><circle cx="311.58" cy="373.6" r="2.05"/><circle cx="324.40" cy="468.2" r="2.05"/><circle cx="332.20" cy="334.7" r="2.05"/><circle cx="332.20" cy="347.4" r="2.05"/><circle cx="332.20" cy="468.2" r="2.05"/><circle cx="339.90" cy="328.9" r="2.05"/><circle cx="339.90" cy="333.7" r="2.05"/><circle cx="339.90" cy="338.3" r="2.05"/><circle cx="339.90" cy="341.8" r="2.05"/><circle cx="339.90" cy="355.4" r="2.05"/><circle cx="339.90" cy="358.4" r="2.05"/><circle cx="339.90" cy="370.6" r="2.05"/><circle cx="339.90" cy="468.2" r="2.05"/><circle cx="352.72" cy="417.6" r="2.05"/><circle cx="352.72" cy="468.2" r="2.05"/><circle cx="360.52" cy="324.7" r="2.05"/><circle cx="360.52" cy="366" r="2.05"/><circle cx="360.52" cy="392.5" r="2.05"/><circle cx="360.52" cy="468.2" r="2.05"/><circle cx="368.22" cy="312.8" r="2.05"/><circle cx="368.22" cy="333.9" r="2.05"/><circle cx="368.22" cy="341.3" r="2.05"/><circle cx="368.22" cy="344" r="2.05"/><circle cx="368.22" cy="346.4" r="2.05"/><circle cx="368.22" cy="354.4" r="2.05"/><circle cx="368.22" cy="381" r="2.05"/><circle cx="368.22" cy="388.5" r="2.05"/><circle cx="381.04" cy="468.2" r="2.05"/><circle cx="388.84" cy="318.9" r="2.05"/><circle cx="388.84" cy="330.7" r="2.05"/><circle cx="388.84" cy="385.5" r="2.05"/><circle cx="388.84" cy="468.2" r="2.05"/><circle cx="396.54" cy="320.9" r="2.05"/><circle cx="396.54" cy="321.7" r="2.05"/><circle cx="396.54" cy="327.7" r="2.05"/><circle cx="396.54" cy="329.3" r="2.05"/><circle cx="396.54" cy="336.3" r="2.05"/><circle cx="396.54" cy="355.4" r="2.05"/><circle cx="396.54" cy="357.4" r="2.05"/><circle cx="396.54" cy="468.2" r="2.05"/><circle cx="409.36" cy="468.2" r="2.05"/><circle cx="417.16" cy="354.8" r="2.05"/><circle cx="417.16" cy="449.8" r="2.05"/><circle cx="417.16" cy="468.2" r="2.05"/><circle cx="424.86" cy="314.2" r="2.05"/><circle cx="424.86" cy="323.9" r="2.05"/><circle cx="424.86" cy="336.3" r="2.05"/><circle cx="424.86" cy="342.4" r="2.05"/><circle cx="424.86" cy="350" r="2.05"/><circle cx="424.86" cy="354.4" r="2.05"/><circle cx="424.86" cy="358.4" r="2.05"/><circle cx="424.86" cy="372" r="2.05"/><circle cx="424.86" cy="462.4" r="2.05"/><circle cx="437.68" cy="468.2" r="2.05"/><circle cx="445.48" cy="371.4" r="2.05"/><circle cx="445.48" cy="445.3" r="2.05"/><circle cx="445.48" cy="468.2" r="2.05"/><circle cx="453.18" cy="328.9" r="2.05"/><circle cx="453.18" cy="348.8" r="2.05"/><circle cx="453.18" cy="354.4" r="2.05"/><circle cx="453.18" cy="371" r="2.05"/><circle cx="453.18" cy="377.7" r="2.05"/><circle cx="453.18" cy="425.3" r="2.05"/><circle cx="453.18" cy="468.2" r="2.05"/><circle cx="466.00" cy="364.9" r="2.05"/><circle cx="466.00" cy="400.6" r="2.05"/><circle cx="466.00" cy="468.2" r="2.05"/><circle cx="473.80" cy="319.7" r="2.05"/><circle cx="473.80" cy="343" r="2.05"/><circle cx="473.80" cy="348.4" r="2.05"/><circle cx="473.80" cy="373.6" r="2.05"/><circle cx="473.80" cy="468.2" r="2.05"/><circle cx="481.50" cy="313.2" r="2.05"/><circle cx="481.50" cy="313.8" r="2.05"/><circle cx="481.50" cy="322.3" r="2.05"/><circle cx="481.50" cy="328.3" r="2.05"/><circle cx="481.50" cy="333.3" r="2.05"/><circle cx="481.50" cy="346.4" r="2.05"/><circle cx="481.50" cy="356.4" r="2.05"/><circle cx="481.50" cy="363" r="2.05"/><circle cx="494.32" cy="370" r="2.05"/><circle cx="494.32" cy="393.7" r="2.05"/><circle cx="494.32" cy="468.2" r="2.05"/><circle cx="502.12" cy="331.9" r="2.05"/><circle cx="502.12" cy="348.8" r="2.05"/><circle cx="502.12" cy="357" r="2.05"/><circle cx="502.12" cy="370.4" r="2.05"/><circle cx="502.12" cy="408.6" r="2.05"/><circle cx="509.82" cy="328.9" r="2.05"/><circle cx="509.82" cy="330.3" r="2.05"/><circle cx="509.82" cy="341.3" r="2.05"/><circle cx="509.82" cy="343.4" r="2.05"/><circle cx="509.82" cy="350" r="2.05"/><circle cx="509.82" cy="354.8" r="2.05"/><circle cx="509.82" cy="369.4" r="2.05"/><circle cx="509.82" cy="372" r="2.05"/><circle cx="509.82" cy="450.8" r="2.05"/><circle cx="522.64" cy="386.1" r="2.05"/><circle cx="522.64" cy="468.2" r="2.05"/><circle cx="530.44" cy="342.8" r="2.05"/><circle cx="530.44" cy="344.4" r="2.05"/><circle cx="530.44" cy="468.2" r="2.05"/><circle cx="538.14" cy="315.8" r="2.05"/><circle cx="538.14" cy="328.7" r="2.05"/><circle cx="538.14" cy="335.9" r="2.05"/><circle cx="538.14" cy="338.7" r="2.05"/><circle cx="538.14" cy="348.4" r="2.05"/><circle cx="538.14" cy="361.4" r="2.05"/><circle cx="538.14" cy="390.7" r="2.05"/><circle cx="538.14" cy="468.2" r="2.05"/><circle cx="550.96" cy="468.2" r="2.05"/><circle cx="558.76" cy="338.3" r="2.05"/><circle cx="558.76" cy="370.4" r="2.05"/><circle cx="558.76" cy="468.2" r="2.05"/><circle cx="566.46" cy="339.7" r="2.05"/><circle cx="566.46" cy="352.4" r="2.05"/><circle cx="566.46" cy="354" r="2.05"/><circle cx="566.46" cy="368.4" r="2.05"/><circle cx="566.46" cy="379.7" r="2.05"/><circle cx="566.46" cy="411.8" r="2.05"/><circle cx="566.46" cy="468.2" r="2.05"/><circle cx="579.28" cy="468.2" r="2.05"/><circle cx="587.08" cy="379" r="2.05"/><circle cx="587.08" cy="381.5" r="2.05"/><circle cx="587.08" cy="402.2" r="2.05"/><circle cx="587.08" cy="468.2" r="2.05"/><circle cx="594.78" cy="363.4" r="2.05"/><circle cx="594.78" cy="468.2" r="2.05"/><circle cx="607.60" cy="387.1" r="2.05"/><circle cx="607.60" cy="468.2" r="2.05"/><circle cx="615.40" cy="336.9" r="2.05"/><circle cx="615.40" cy="337.7" r="2.05"/><circle cx="615.40" cy="378" r="2.05"/><circle cx="615.40" cy="393.5" r="2.05"/><circle cx="615.40" cy="468.2" r="2.05"/><circle cx="623.10" cy="328.3" r="2.05"/><circle cx="623.10" cy="337.3" r="2.05"/><circle cx="623.10" cy="345" r="2.05"/><circle cx="623.10" cy="350.4" r="2.05"/><circle cx="623.10" cy="352.8" r="2.05"/><circle cx="623.10" cy="373" r="2.05"/><circle cx="623.10" cy="377.7" r="2.05"/><circle cx="623.10" cy="395.5" r="2.05"/><circle cx="623.10" cy="468.2" r="2.05"/><circle cx="635.92" cy="383.1" r="2.05"/><circle cx="635.92" cy="468.2" r="2.05"/><circle cx="643.72" cy="352" r="2.05"/><circle cx="643.72" cy="357.4" r="2.05"/><circle cx="643.72" cy="406.2" r="2.05"/><circle cx="643.72" cy="468.2" r="2.05"/><circle cx="651.42" cy="339.7" r="2.05"/><circle cx="651.42" cy="343" r="2.05"/><circle cx="651.42" cy="345.8" r="2.05"/><circle cx="651.42" cy="369" r="2.05"/><circle cx="651.42" cy="377.7" r="2.05"/><circle cx="651.42" cy="389.1" r="2.05"/><circle cx="651.42" cy="397.1" r="2.05"/><circle cx="651.42" cy="468.2" r="2.05"/><circle cx="664.24" cy="380.7" r="2.05"/><circle cx="664.24" cy="468.2" r="2.05"/><circle cx="672.04" cy="355" r="2.05"/><circle cx="672.04" cy="376" r="2.05"/><circle cx="672.04" cy="468.2" r="2.05"/><circle cx="679.74" cy="316.2" r="2.05"/><circle cx="679.74" cy="328.9" r="2.05"/><circle cx="679.74" cy="332.9" r="2.05"/><circle cx="679.74" cy="346.4" r="2.05"/><circle cx="679.74" cy="349.4" r="2.05"/><circle cx="679.74" cy="351.4" r="2.05"/><circle cx="679.74" cy="355.4" r="2.05"/><circle cx="679.74" cy="468.2" r="2.05"/></g>
<line x1="49.00" y1="468.3" x2="49.00" y2="473.3" stroke="#777" stroke-width="0.9"/><text transform="translate(52.30,476.6) rotate(-90)" font-size="8.5" text-anchor="end" fill="#333">HPV16E6</text><line x1="77.32" y1="468.3" x2="77.32" y2="473.3" stroke="#777" stroke-width="0.9"/><text transform="translate(80.62,476.6) rotate(-90)" font-size="8.5" text-anchor="end" fill="#333">PPD</text><line x1="105.64" y1="468.3" x2="105.64" y2="473.3" stroke="#777" stroke-width="0.9"/><text transform="translate(108.94,476.6) rotate(-90)" font-size="8.5" text-anchor="end" fill="#333">BCGbub</text><line x1="133.96" y1="468.3" x2="133.96" y2="473.3" stroke="#777" stroke-width="0.9"/><text transform="translate(137.26,476.6) rotate(-90)" font-size="8.5" text-anchor="end" fill="#333">MTBlys</text><line x1="162.28" y1="468.3" x2="162.28" y2="473.3" stroke="#777" stroke-width="0.9"/><text transform="translate(165.58,476.6) rotate(-90)" font-size="8.5" text-anchor="end" fill="#333">ConA</text><line x1="190.60" y1="468.3" x2="190.60" y2="473.3" stroke="#777" stroke-width="0.9"/><text transform="translate(193.90,476.6) rotate(-90)" font-size="8.5" text-anchor="end" fill="#333">Rv0287/88</text><line x1="218.92" y1="468.3" x2="218.92" y2="473.3" stroke="#777" stroke-width="0.9"/><text transform="translate(222.22,476.6) rotate(-90)" font-size="8.5" text-anchor="end" fill="#333">Rv0826</text><line x1="247.24" y1="468.3" x2="247.24" y2="473.3" stroke="#777" stroke-width="0.9"/><text transform="translate(250.54,476.6) rotate(-90)" font-size="8.5" text-anchor="end" fill="#333">Rv1886</text><line x1="275.56" y1="468.3" x2="275.56" y2="473.3" stroke="#777" stroke-width="0.9"/><text transform="translate(278.86,476.6) rotate(-90)" font-size="8.5" text-anchor="end" fill="#333">Rv1791</text><line x1="303.88" y1="468.3" x2="303.88" y2="473.3" stroke="#777" stroke-width="0.9"/><text transform="translate(307.18,476.6) rotate(-90)" font-size="8.5" text-anchor="end" fill="#333">Rv0470</text><line x1="332.20" y1="468.3" x2="332.20" y2="473.3" stroke="#777" stroke-width="0.9"/><text transform="translate(335.50,476.6) rotate(-90)" font-size="8.5" text-anchor="end" fill="#333">Rv1131</text><line x1="360.52" y1="468.3" x2="360.52" y2="473.3" stroke="#777" stroke-width="0.9"/><text transform="translate(363.82,476.6) rotate(-90)" font-size="8.5" text-anchor="end" fill="#333">Rv0440</text><line x1="388.84" y1="468.3" x2="388.84" y2="473.3" stroke="#777" stroke-width="0.9"/><text transform="translate(392.14,476.6) rotate(-90)" font-size="8.5" text-anchor="end" fill="#333">Rv1980</text><line x1="417.16" y1="468.3" x2="417.16" y2="473.3" stroke="#777" stroke-width="0.9"/><text transform="translate(420.46,476.6) rotate(-90)" font-size="8.5" text-anchor="end" fill="#333">E/C</text><line x1="445.48" y1="468.3" x2="445.48" y2="473.3" stroke="#777" stroke-width="0.9"/><text transform="translate(448.78,476.6) rotate(-90)" font-size="8.5" text-anchor="end" fill="#333">Rv3615</text><line x1="473.80" y1="468.3" x2="473.80" y2="473.3" stroke="#777" stroke-width="0.9"/><text transform="translate(477.10,476.6) rotate(-90)" font-size="8.5" text-anchor="end" fill="#333">Rv3616</text><line x1="502.12" y1="468.3" x2="502.12" y2="473.3" stroke="#777" stroke-width="0.9"/><text transform="translate(505.42,476.6) rotate(-90)" font-size="8.5" text-anchor="end" fill="#333">Rv1733</text><line x1="530.44" y1="468.3" x2="530.44" y2="473.3" stroke="#777" stroke-width="0.9"/><text transform="translate(533.74,476.6) rotate(-90)" font-size="8.5" text-anchor="end" fill="#333">Rv1221</text><line x1="558.76" y1="468.3" x2="558.76" y2="473.3" stroke="#777" stroke-width="0.9"/><text transform="translate(562.06,476.6) rotate(-90)" font-size="8.5" text-anchor="end" fill="#333">Rv1846</text><line x1="587.08" y1="468.3" x2="587.08" y2="473.3" stroke="#777" stroke-width="0.9"/><text transform="translate(590.38,476.6) rotate(-90)" font-size="8.5" text-anchor="end" fill="#333">Rv0991</text><line x1="615.40" y1="468.3" x2="615.40" y2="473.3" stroke="#777" stroke-width="0.9"/><text transform="translate(618.70,476.6) rotate(-90)" font-size="8.5" text-anchor="end" fill="#333">Rv2034</text><line x1="643.72" y1="468.3" x2="643.72" y2="473.3" stroke="#777" stroke-width="0.9"/><text transform="translate(647.02,476.6) rotate(-90)" font-size="8.5" text-anchor="end" fill="#333">Rv2873</text><line x1="672.04" y1="468.3" x2="672.04" y2="473.3" stroke="#777" stroke-width="0.9"/><text transform="translate(675.34,476.6) rotate(-90)" font-size="8.5" text-anchor="end" fill="#333">Rv3052</text>
<text x="71.8" y="287.9" font-size="6.8" fill="#444" textLength="14.3" lengthAdjust="spacingAndGlyphs">0.001</text><line x1="71.8" y1="289.6" x2="84.8" y2="289.6" stroke="#555" stroke-width="1.2"/><text x="88.6" y="286.3" font-size="9.6" font-weight="bold" fill="#222" text-anchor="middle">*</text><text x="71.8" y="298.2" font-size="6.8" fill="#444" textLength="14.3" lengthAdjust="spacingAndGlyphs">0.027</text><line x1="71.8" y1="300.6" x2="78.6" y2="300.6" stroke="#555" stroke-width="1.2"/><text x="130.0" y="287.9" font-size="6.8" fill="#444" textLength="14.3" lengthAdjust="spacingAndGlyphs">0.001</text><line x1="130.0" y1="289.6" x2="144.1" y2="289.6" stroke="#555" stroke-width="1.2"/><text x="145.6" y="286.3" font-size="9.6" font-weight="bold" fill="#222" text-anchor="middle">*</text><text x="130.0" y="298.2" font-size="6.8" fill="#444" textLength="14.3" lengthAdjust="spacingAndGlyphs">0.048</text><line x1="136.0" y1="300.6" x2="144.0" y2="300.6" stroke="#555" stroke-width="1.2"/><text x="183.3" y="287.9" font-size="6.8" fill="#444" textLength="14.3" lengthAdjust="spacingAndGlyphs">0.007</text><line x1="183.3" y1="289.6" x2="197.7" y2="289.6" stroke="#555" stroke-width="1.2"/><text x="200.4" y="286.3" font-size="9.6" font-weight="bold" fill="#222" text-anchor="middle">*</text><text x="242.2" y="287.9" font-size="6.8" fill="#444" textLength="14.3" lengthAdjust="spacingAndGlyphs">0.014</text><line x1="242.2" y1="289.6" x2="256.6" y2="289.6" stroke="#555" stroke-width="1.2"/><text x="258.9" y="286.3" font-size="9.6" font-weight="bold" fill="#222" text-anchor="middle">*</text><text x="298.1" y="287.9" font-size="6.8" fill="#444" textLength="14.3" lengthAdjust="spacingAndGlyphs">0.004</text><line x1="298.1" y1="289.6" x2="312.1" y2="289.6" stroke="#555" stroke-width="1.2"/><text x="314.8" y="286.3" font-size="9.6" font-weight="bold" fill="#222" text-anchor="middle">*</text><text x="325.2" y="287.9" font-size="6.8" fill="#444" textLength="14.3" lengthAdjust="spacingAndGlyphs">0.010</text><line x1="325.2" y1="289.6" x2="339.7" y2="289.6" stroke="#555" stroke-width="1.2"/><text x="341.9" y="286.3" font-size="9.6" font-weight="bold" fill="#222" text-anchor="middle">*</text><text x="353.3" y="287.9" font-size="6.8" fill="#444" textLength="14.3" lengthAdjust="spacingAndGlyphs">0.013</text><line x1="353.3" y1="289.6" x2="368.0" y2="289.6" stroke="#555" stroke-width="1.2"/><text x="370.4" y="286.3" font-size="9.6" font-weight="bold" fill="#222" text-anchor="middle">*</text><text x="382.1" y="287.9" font-size="6.8" fill="#444" textLength="14.3" lengthAdjust="spacingAndGlyphs">0.004</text><line x1="382.1" y1="289.6" x2="396.8" y2="289.6" stroke="#555" stroke-width="1.2"/><text x="399.2" y="286.3" font-size="9.6" font-weight="bold" fill="#222" text-anchor="middle">*</text><text x="410.8" y="287.9" font-size="6.8" fill="#444" textLength="14.3" lengthAdjust="spacingAndGlyphs">0.001</text><line x1="410.8" y1="289.6" x2="425.3" y2="289.6" stroke="#555" stroke-width="1.2"/><text x="427.9" y="286.3" font-size="9.6" font-weight="bold" fill="#222" text-anchor="middle">*</text><text x="410.8" y="298.2" font-size="6.8" fill="#444" textLength="14.3" lengthAdjust="spacingAndGlyphs">0.013</text><line x1="418.3" y1="300.6" x2="424.9" y2="300.6" stroke="#555" stroke-width="1.2"/><text x="467.1" y="287.9" font-size="6.8" fill="#444" textLength="14.3" lengthAdjust="spacingAndGlyphs">0.001</text><line x1="467.1" y1="289.6" x2="481.6" y2="289.6" stroke="#555" stroke-width="1.2"/><text x="484.2" y="286.3" font-size="9.6" font-weight="bold" fill="#222" text-anchor="middle">*</text><text x="493.2" y="287.9" font-size="6.8" fill="#444" textLength="14.3" lengthAdjust="spacingAndGlyphs">0.005</text><line x1="493.2" y1="289.6" x2="507.7" y2="289.6" stroke="#555" stroke-width="1.2"/><text x="510.3" y="286.3" font-size="9.6" font-weight="bold" fill="#222" text-anchor="middle">*</text><text x="524.0" y="287.9" font-size="6.8" fill="#444" textLength="14.3" lengthAdjust="spacingAndGlyphs">0.018</text><line x1="524.0" y1="289.6" x2="538.1" y2="289.6" stroke="#555" stroke-width="1.2"/><text x="540.7" y="286.3" font-size="9.6" font-weight="bold" fill="#222" text-anchor="middle">*</text><text x="662.3" y="287.9" font-size="6.8" fill="#444" textLength="14.3" lengthAdjust="spacingAndGlyphs">0.009</text><line x1="662.3" y1="289.6" x2="676.8" y2="289.6" stroke="#555" stroke-width="1.2"/><text x="679.4" y="286.3" font-size="9.6" font-weight="bold" fill="#222" text-anchor="middle">*</text><text x="662.3" y="298.2" font-size="6.8" fill="#444" textLength="14.3" lengthAdjust="spacingAndGlyphs">0.044</text><line x1="669.3" y1="300.6" x2="676.8" y2="300.6" stroke="#555" stroke-width="1.2"/>
<rect x="543.3" y="258.7" width="7" height="10.8" fill="#fff" stroke="#333" stroke-width="1.1"/>
<rect x="590.3" y="258.7" width="7.6" height="10.8" fill="#d5d5d7" stroke="#333" stroke-width="1.1"/>
<rect x="634.1" y="258.7" width="7.4" height="10.8" fill="#3c3c3e" stroke="#333" stroke-width="1.1"/>
<g font-size="9.9" fill="#333"><text x="556" y="269.3">Naïve</text><text x="603.8" y="269.3">BCG</text><text x="647.6" y="269.3">H37Rv</text></g>
</svg></body></html>
